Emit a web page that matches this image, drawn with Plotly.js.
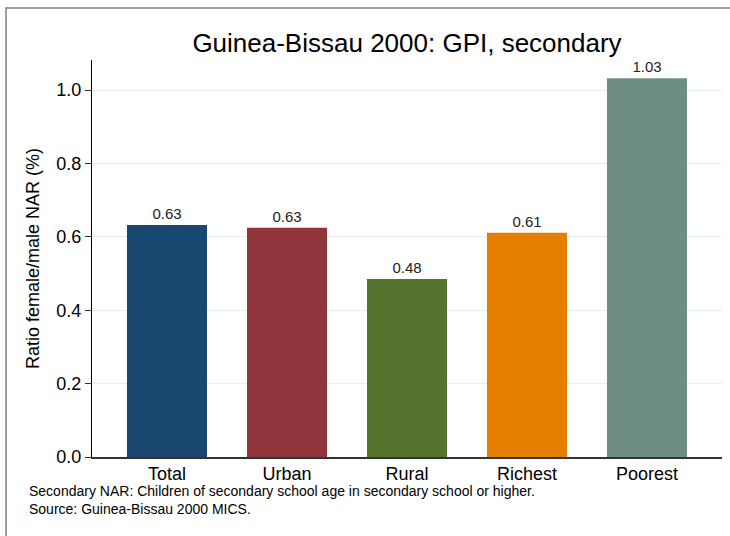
<!DOCTYPE html>
<html>
<head>
<meta charset="utf-8">
<script src="https://cdn.plot.ly/plotly-3.0.1.min.js"></script>
<style>html,body{margin:0;padding:0;background:#fff;}#chart{width:730px;height:536px;}</style>
</head>
<body>
<div id="chart"></div>
<script>
const categories = ["Total", "Urban", "Rural", "Richest", "Poorest"];
const values = [0.632, 0.625, 0.485, 0.611, 1.032];
const barColors = ["#1a476f", "#90353b", "#55752f", "#e37e00", "#6e8e84"];
const yTicks = [0, 0.2, 0.4, 0.6, 0.8, 1.0];
const yTickLabels = ["0.0", "0.2", "0.4", "0.6", "0.8", "1.0"];
const footnotes = [
  "Secondary NAR: Children of secondary school age in secondary school or higher.",
  "Source: Guinea-Bissau 2000 MICS."
];

const trace = {
  type: "bar",
  x: categories,
  y: values,
  width: 0.667,
  marker: {color: barColors, line: {width: 0}},
  text: values.map(v => v.toFixed(2)),
  textposition: "outside",
  textfont: {family: "Liberation Sans, Arial, sans-serif", size: 15, color: "#222"},
  cliponaxis: false,
  hoverinfo: "none"
};

const layout = {
  width: 730, height: 536,
  margin: {l: 92, r: 8, t: 60, b: 79},
  paper_bgcolor: "#ffffff",
  plot_bgcolor: "#ffffff",
  showlegend: false,
  font: {family: "Liberation Sans, Arial, sans-serif", color: "#000"},
  title: {
    text: "Guinea-Bissau 2000: GPI, secondary",
    font: {size: 26, color: "#000"},
    x: 0.5, xref: "paper", xanchor: "center",
    y: 1 - 43/536, yanchor: "middle"
  },
  xaxis: {
    type: "category",
    range: [-0.625, 4.625],
    showgrid: false,
    showline: true, linecolor: "#333", linewidth: 1.5,
    ticks: "", tickfont: {size: 18, color: "#000"},
    zeroline: false, fixedrange: true
  },
  yaxis: {
    range: [0, 1.082],
    tickvals: yTicks, ticktext: yTickLabels,
    showgrid: true, gridcolor: "#e6eef1", gridwidth: 1,
    showline: true, linecolor: "#000", linewidth: 1,
    ticks: "outside", ticklen: 6, tickcolor: "#333", tickwidth: 1,
    tickfont: {size: 18, color: "#000"},
    zeroline: false,
    title: {text: "Ratio female/male NAR (%)", font: {size: 18, color: "#000"}, standoff: 12},
    fixedrange: true
  },
  shapes: [{
    type: "rect", xref: "paper", yref: "paper",
    x0: (6 - 92) / 630, x1: 1.2, y0: -0.4, y1: (457 - 8) / 397,
    line: {color: "#7f7f7f", width: 1.5}, fillcolor: "rgba(0,0,0,0)", layer: "below"
  }],
  annotations: [{
    xref: "paper", yref: "paper",
    x: (27 - 92) / 630, y: (457 - 481) / 397,
    xanchor: "left", yanchor: "top", align: "left",
    showarrow: false,
    text: footnotes.join("<br>"),
    font: {size: 14, color: "#000"}
  }]
};

Plotly.newPlot("chart", [trace], layout, {displayModeBar: false, staticPlot: true});
</script>
</body>
</html>
